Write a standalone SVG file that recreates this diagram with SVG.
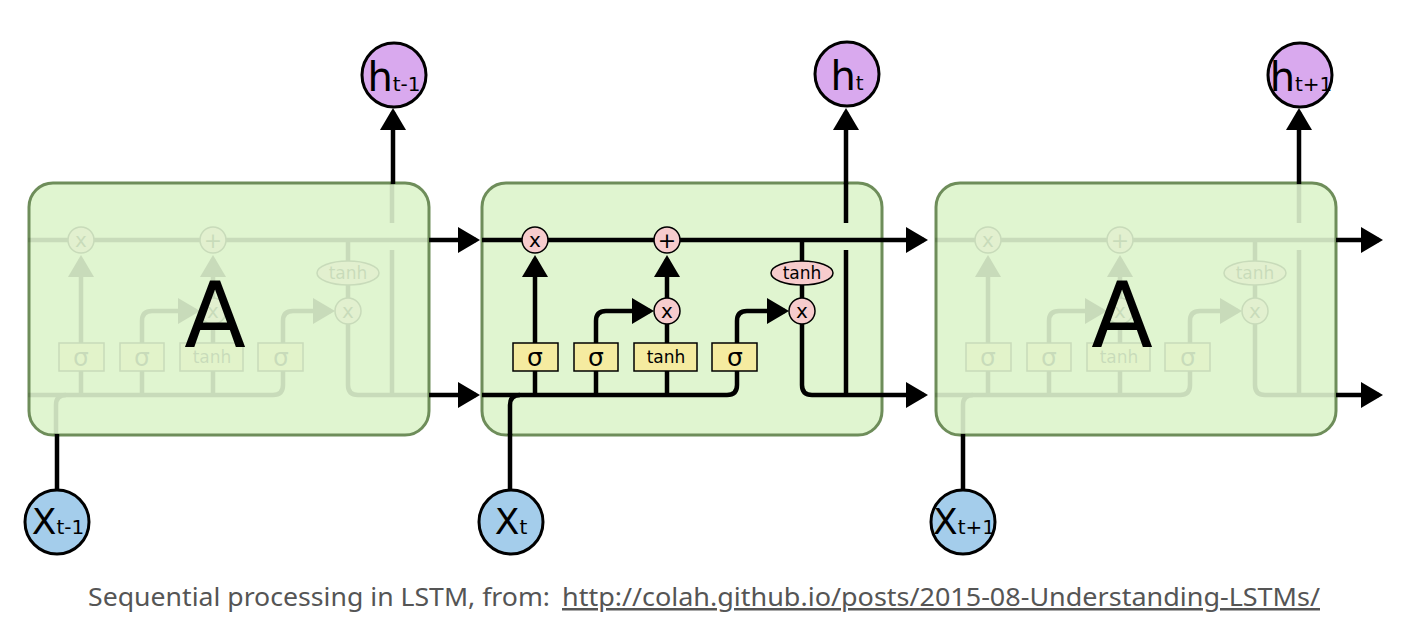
<svg xmlns="http://www.w3.org/2000/svg" xmlns:xlink="http://www.w3.org/1999/xlink" width="1410" height="640" viewBox="0 0 1410 640">
<style>
.wire{fill:none;stroke:#000;stroke-width:4.5}
.box{fill:#e0f5d0;stroke:#6e8d5a;stroke-width:3}
.op{fill:#f7cccd;stroke:#000;stroke-width:1.5}
.gate{fill:#f5eba0;stroke:#000;stroke-width:1.5}
.hn{fill:#d9a9ee;stroke:#000;stroke-width:3}
.xn{fill:#a4cdeb;stroke:#000;stroke-width:3}
.t{font-family:"DejaVu Sans",sans-serif;fill:#000;text-anchor:middle}
.cap{font-family:"Noto Sans","Open Sans",sans-serif;font-size:25px;fill:#555}
</style>
<defs>
<marker id="ah" markerUnits="userSpaceOnUse" markerWidth="22" markerHeight="26" viewBox="0 0 22 26" refX="18" refY="13" orient="auto"><path d="M0,0 L22,13 L0,26 z" fill="#000"/></marker>
<g id="internals">
 <g class="wire">
  <path d="M482,240 H882"/>
  <path d="M482,395 H727 Q737,395 737,385 V371"/>
  <path d="M510,435 V405 Q510,395 520,395"/>
  <path d="M535,395 V371"/>
  <path d="M535,343 V259" marker-end="url(#ah)"/>
  <path d="M596,395 V371"/>
  <path d="M596,343 V321 Q596,311 606,311 H650" marker-end="url(#ah)"/>
  <path d="M667,395 V371"/>
  <path d="M667,343 V324"/>
  <path d="M667,298 V259" marker-end="url(#ah)"/>
  <path d="M737,343 V321 Q737,311 747,311 H785" marker-end="url(#ah)"/>
  <path d="M802,240 V261"/>
  <path d="M802,285 V298"/>
  <path d="M802,324 V385 Q802,395 812,395 H882"/>
  <path d="M846,395 V250"/>
  <path d="M846,223 V183"/>
 </g>
 <circle class="op" cx="535" cy="240" r="13"/>
 <text class="t" x="535" y="247" font-size="20">x</text>
 <circle class="op" cx="667" cy="240" r="13"/>
 <text class="t" x="667" y="248" font-size="22">+</text>
 <circle class="op" cx="667" cy="311" r="13"/>
 <text class="t" x="667" y="318" font-size="20">x</text>
 <ellipse class="op" cx="802" cy="273" rx="31" ry="12"/>
 <text class="t" x="802" y="279" font-size="17">tanh</text>
 <circle class="op" cx="802" cy="311" r="13"/>
 <text class="t" x="802" y="318" font-size="20">x</text>
 <rect class="gate" x="513" y="343" width="45" height="28"/>
 <text class="t" x="535" y="366" font-size="25">σ</text>
 <rect class="gate" x="574" y="343" width="44" height="28"/>
 <text class="t" x="596" y="366" font-size="25">σ</text>
 <rect class="gate" x="634" y="343" width="63" height="28"/>
 <text class="t" x="666" y="363" font-size="17">tanh</text>
 <rect class="gate" x="712" y="343" width="45" height="28"/>
 <text class="t" x="735" y="366" font-size="25">σ</text>
</g>
</defs>

<g id="cell-prev">
 <rect class="box" x="29" y="183" width="400" height="252" rx="24"/>
 <use xlink:href="#internals" href="#internals" transform="translate(-454,0)" opacity="0.1"/>
 <text class="t" x="215" y="347" font-size="90">A</text>
</g>
<g id="cell-curr">
 <rect class="box" x="482" y="183" width="400" height="252" rx="24"/>
 <use xlink:href="#internals" href="#internals"/>
</g>
<g id="cell-next">
 <rect class="box" x="936" y="183" width="400" height="252" rx="24"/>
 <use xlink:href="#internals" href="#internals" transform="translate(453,0)" opacity="0.1"/>
 <text class="t" x="1122" y="347" font-size="90">A</text>
</g>

<g id="connectors" class="wire">
 <path d="M429,240 H476" marker-end="url(#ah)"/>
 <path d="M429,395 H476" marker-end="url(#ah)"/>
 <path d="M882,240 H924" marker-end="url(#ah)"/>
 <path d="M882,395 H924" marker-end="url(#ah)"/>
 <path d="M1336,240 H1379" marker-end="url(#ah)"/>
 <path d="M1336,395 H1379" marker-end="url(#ah)"/>
 <path d="M393,184 V112" marker-end="url(#ah)"/>
 <path d="M846,184 V112" marker-end="url(#ah)"/>
 <path d="M1299,184 V112" marker-end="url(#ah)"/>
 <path d="M57,490 V434"/>
 <path d="M510,490 V434"/>
 <path d="M963,490 V434"/>
</g>

<g id="h-prev">
 <circle class="hn" cx="394" cy="75" r="32"/>
 <text class="t" x="394" y="91" font-size="40">h<tspan font-size="20">t-1</tspan></text>
</g>
<g id="h-curr">
 <circle class="hn" cx="847" cy="74" r="32"/>
 <text class="t" x="847" y="90" font-size="40">h<tspan font-size="20">t</tspan></text>
</g>
<g id="h-next">
 <circle class="hn" cx="1300" cy="75" r="32"/>
 <text class="t" x="1301" y="91" font-size="40">h<tspan font-size="20">t+1</tspan></text>
</g>
<g id="x-prev">
 <circle class="xn" cx="57" cy="522" r="32"/>
 <text class="t" x="58" y="534" font-size="36">X<tspan font-size="20">t-1</tspan></text>
</g>
<g id="x-curr">
 <circle class="xn" cx="511" cy="522" r="32"/>
 <text class="t" x="511" y="534" font-size="36">X<tspan font-size="20">t</tspan></text>
</g>
<g id="x-next">
 <circle class="xn" cx="963" cy="522" r="32"/>
 <text class="t" x="964" y="534" font-size="36">X<tspan font-size="20">t+1</tspan></text>
</g>

<g id="caption">
 <text class="cap" x="88" y="606" textLength="462" lengthAdjust="spacingAndGlyphs">Sequential processing in LSTM, from:</text>
 <text class="cap" x="562" y="606" textLength="758" lengthAdjust="spacingAndGlyphs" text-decoration="underline">http://colah.github.io/posts/2015-08-Understanding-LSTMs/</text>
</g>
</svg>
